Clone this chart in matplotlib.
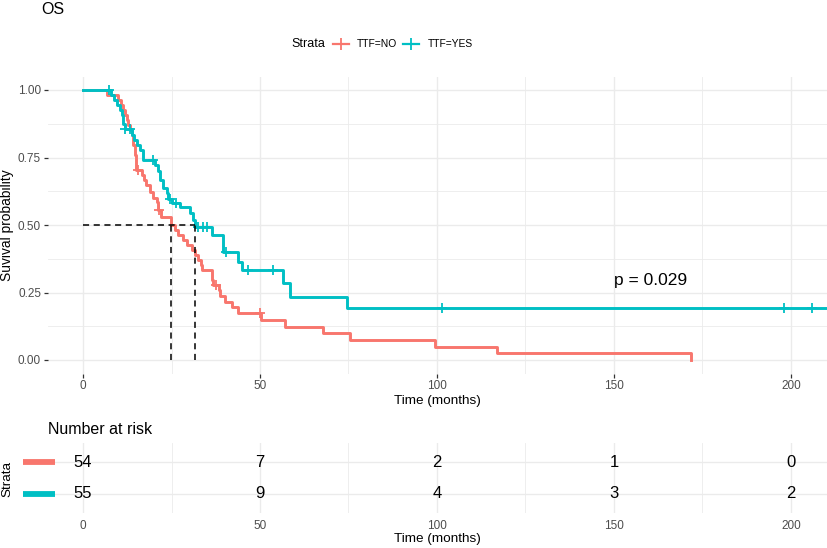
import matplotlib
matplotlib.use("Agg")
import matplotlib.pyplot as plt
from matplotlib.lines import Line2D
from matplotlib.transforms import blended_transform_factory

plt.rcParams['font.family'] = ['Liberation Sans', 'DejaVu Sans']

# Kaplan-Meier steps (months, survival)
no_time = [0, 6.8, 9.9, 10.8, 11.3, 11.8, 12.3, 12.8, 13.3, 13.8, 14.2, 14.7, 14.9,
           16.6, 17.1, 17.9, 18.9, 19.9, 20.8, 21.2, 22.0, 24.9, 26.0, 26.9, 28.3,
           29.3, 30.7, 31.6, 32.6, 33.2, 33.7, 36.3, 36.8, 38.4, 38.8, 40.1, 42.0,
           43.9, 50.2, 57.1, 67.7, 75.4, 99.4, 117.0, 171.9]
no_surv = [1.0, 0.981, 0.963, 0.944, 0.926, 0.907, 0.889, 0.870, 0.852, 0.833, 0.796, 0.759, 0.704,
           0.685, 0.667, 0.648, 0.623, 0.599, 0.586, 0.556, 0.531, 0.500, 0.481, 0.463, 0.444,
           0.426, 0.407, 0.389, 0.370, 0.352, 0.333, 0.296, 0.278, 0.259, 0.236, 0.216, 0.196,
           0.173, 0.148, 0.123, 0.099, 0.074, 0.049, 0.025, 0.0]
no_cens_t = [15.6, 21.6, 37.6, 49.9]
no_cens_s = [0.704, 0.556, 0.278, 0.173]

yes_time = [0, 8.0, 8.8, 9.5, 10.4, 10.9, 11.4, 11.8, 13.8, 14.3, 15.2, 16.1, 17.0,
            20.3, 21.3, 21.8, 22.7, 23.6, 24.1, 25.1, 27.4, 30.2, 31.2, 31.6, 36.4,
            39.6, 43.9, 44.8, 56.6, 58.5, 74.5, 212.0]
yes_surv = [1.0, 0.982, 0.964, 0.945, 0.927, 0.909, 0.873, 0.855, 0.835, 0.816, 0.796, 0.776, 0.741,
            0.721, 0.701, 0.668, 0.637, 0.617, 0.596, 0.580, 0.566, 0.543, 0.519, 0.494, 0.463,
            0.401, 0.364, 0.333, 0.284, 0.235, 0.191, 0.191]
yes_cens_t = [7.4, 11.9, 13.3, 19.8, 24.6, 26.4, 32.6, 33.9, 35.0, 40.5, 46.7, 53.8, 101.4, 198.1, 206.0]
yes_cens_s = [1.0, 0.855, 0.855, 0.741, 0.596, 0.580, 0.494, 0.494, 0.494, 0.401, 0.333, 0.333, 0.191, 0.191, 0.191]

medians = [24.9, 31.6]

risk_times = [0, 50, 100, 150, 200]
risk_no = [54, 7, 2, 1, 0]
risk_yes = [55, 9, 4, 3, 2]

labels = ['TTF=NO', 'TTF=YES']
RED = '#F8766D'
TEAL = '#00BFC4'
GRID = '#EBEBEB'

W, H = 827, 548


def fx(px):
    return px / W


def fy(py):
    return 1 - py / H


fig = plt.figure(figsize=(W / 100, H / 100), dpi=100)

# ---- survival panel
ax = fig.add_axes([fx(48), fy(373.5), fx(827) - fx(48), fy(76.5) - fy(373.5)])
ax.step(no_time, no_surv, where='post', color=RED, lw=2.1, zorder=3)
ax.plot(no_cens_t, no_cens_s, '+', color=RED, ms=7, mew=1.3, zorder=3)
ax.step(yes_time, yes_surv, where='post', color=TEAL, lw=2.1, zorder=4)
ax.plot(yes_cens_t, yes_cens_s, '+', color=TEAL, ms=7, mew=1.3, zorder=4)

ax.plot([0, max(medians)], [0.5, 0.5], color='black', lw=1.1, dashes=(4, 3), zorder=5)
for m in medians:
    ax.plot([m, m], [0, 0.5], color='black', lw=1.1, dashes=(4, 3), zorder=5)

ax.text(150, 0.296, 'p = 0.029', fontsize=12.5, ha='left', va='center')

ax.set_xlim(-9.9, 210.2)
ax.set_ylim(-0.05, 1.05)
ax.set_xticks([0, 50, 100, 150, 200])
ax.set_xticks([25, 75, 125, 175], minor=True)
ax.set_yticks([0, 0.25, 0.5, 0.75, 1.0])
ax.set_yticklabels(['0.00', '0.25', '0.50', '0.75', '1.00'])
ax.set_yticks([0.125, 0.375, 0.625, 0.875], minor=True)
ax.grid(which='major', color=GRID, lw=1.0)
ax.grid(which='minor', color=GRID, lw=0.6)
ax.set_axisbelow(True)
for s in ax.spines.values():
    s.set_visible(False)
ax.tick_params(which='major', length=3, width=0.9, color='#333333',
               labelcolor='#4D4D4D', labelsize=8.5, pad=2)
ax.tick_params(which='minor', length=0)
ax.set_xlabel('Time (months)', fontsize=9.7, labelpad=2)
ax.set_ylabel('Suvival probability', fontsize=9.9, labelpad=3)

fig.text(fx(41), fy(10), 'OS', fontsize=11.5, ha='left', va='center')

# ---- legend on top
fig.text(fx(291), fy(44), 'Strata', fontsize=9, ha='left', va='center')
for col, lab, x0, tx in [(RED, labels[0], 333, 357), (TEAL, labels[1], 403, 428)]:
    fig.add_artist(Line2D([fx(x0), fx(x0 + 16)], [fy(44), fy(44)], color=col, lw=1.6,
                          transform=fig.transFigure))
    fig.add_artist(Line2D([fx(x0 + 8)], [fy(44)], marker='+', ms=8, mew=1.3, color=col,
                          transform=fig.transFigure))
    fig.text(fx(tx), fy(44), lab, fontsize=7.4, ha='left', va='center')

# ---- risk table
axr = fig.add_axes([fx(48), fy(513), fx(827) - fx(48), fy(443) - fy(513)])
axr.set_xlim(-9.9, 210.2)
axr.set_ylim(0.4, 2.6)
for t, n1, n2 in zip(risk_times, risk_no, risk_yes):
    axr.text(t, 2, str(n1), fontsize=12, ha='center', va='center')
    axr.text(t, 1, str(n2), fontsize=12, ha='center', va='center')
axr.set_xticks([0, 50, 100, 150, 200])
axr.set_xticks([25, 75, 125, 175], minor=True)
axr.set_yticks([1, 2])
axr.set_yticklabels([])
axr.grid(which='major', color=GRID, lw=1.0)
axr.grid(which='minor', axis='x', color=GRID, lw=0.6)
axr.set_axisbelow(True)
for s in axr.spines.values():
    s.set_visible(False)
axr.tick_params(which='both', length=0, labelcolor='#4D4D4D', labelsize=8.5, pad=5)
axr.set_xlabel('Time (months)', fontsize=9.7, labelpad=1)

tr = blended_transform_factory(fig.transFigure, axr.transData)
for col, yy in [(RED, 2), (TEAL, 1)]:
    axr.add_line(Line2D([fx(23), fx(55)], [yy, yy], color=col, lw=4.2,
                        transform=tr, clip_on=False, solid_capstyle='butt'))

fig.text(fx(7), fy(479), 'Strata', fontsize=9.7, rotation=90, ha='center', va='center')
fig.text(fx(48), fy(429), 'Number at risk', fontsize=11.5, ha='left', va='center')

fig.savefig('out.png', dpi=100)
